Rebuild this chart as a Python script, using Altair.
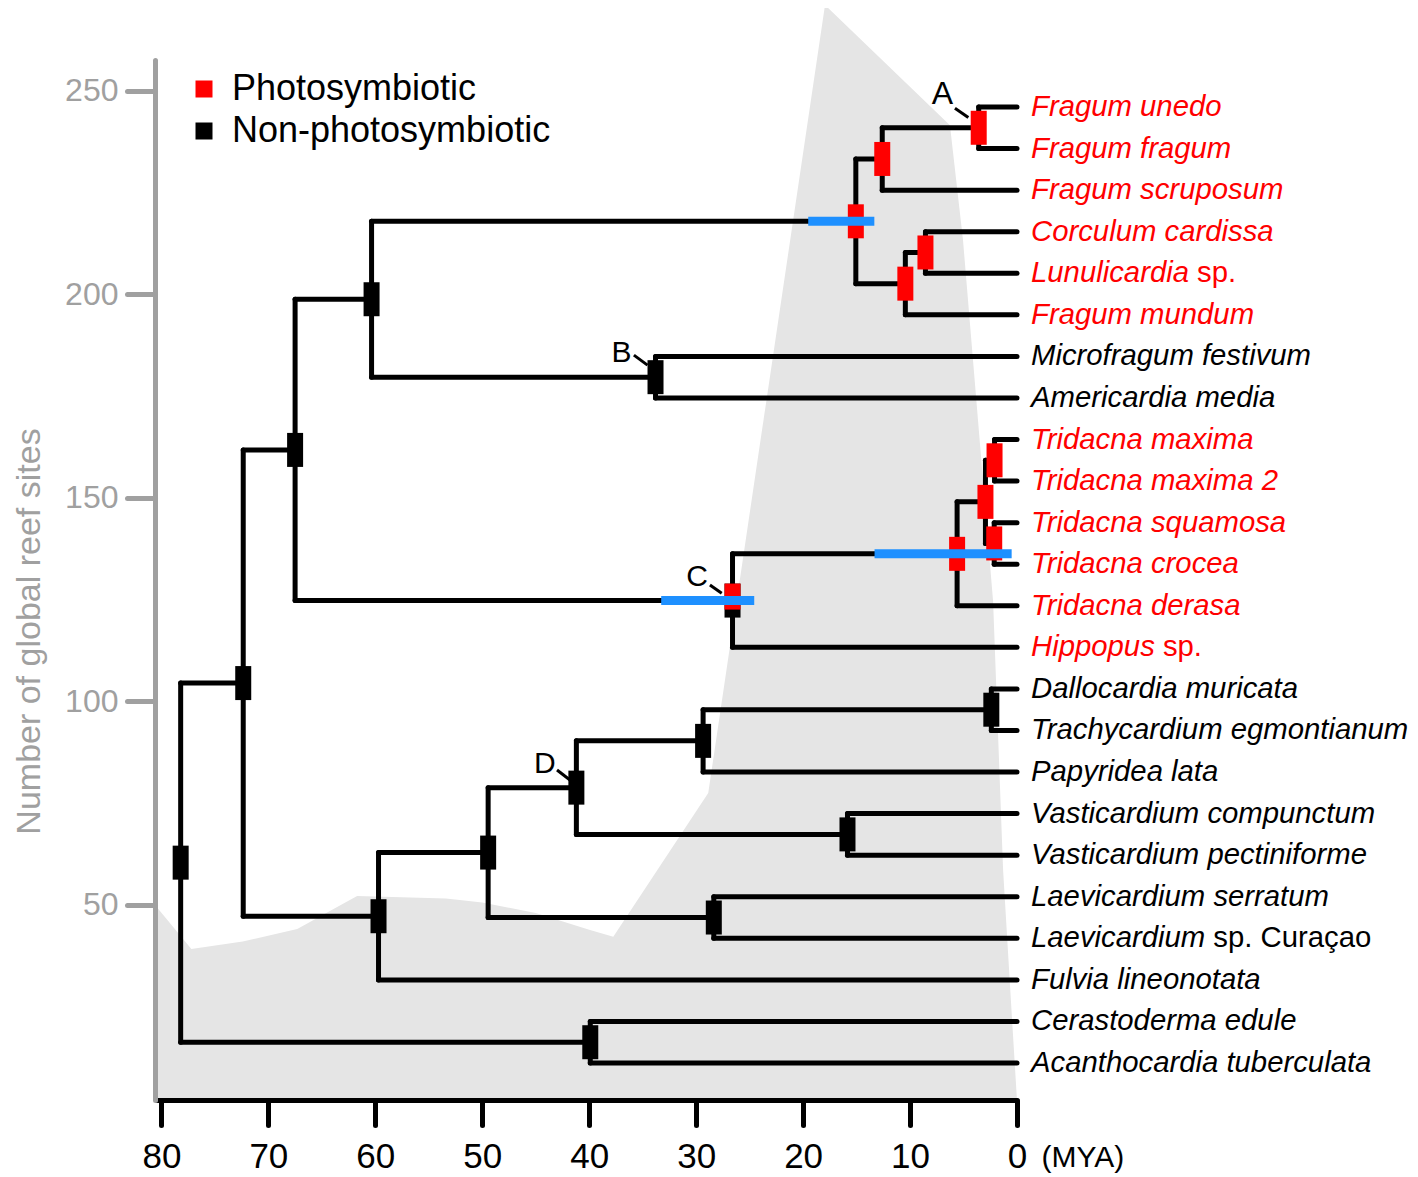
import altair as alt
import pandas as pd

FONT = "Liberation Sans"
GRAY = "#A0A0A0"
RED = "#FF0000"
BLUE = "#1E90FF"
AREA_GRAY = "#E5E5E5"

# ---------------- data ----------------
# number of global reef sites through time (grey area)
REEF_MYA = [80.6, 77.2, 72.4, 67.3, 61.7, 53.4, 50.0, 45.0, 40.0, 37.75,
            28.87, 17.95, 6.27, 5.05, 2.24, 1.3, 0.47, 0.0]
REEF_SITES = [50.0, 39.2, 41.0, 44.1, 52.2, 51.6, 50.6, 48.0, 43.9, 42.2,
              77.5, 271.0, 241.5, 213.3, 124.7, 58.6, 22.2, 2.0]

# tips (top to bottom)
TIP_ITALIC = ["Fragum unedo", "Fragum fragum", "Fragum scruposum", "Corculum cardissa",
              "Lunulicardia", "Fragum mundum", "Microfragum festivum", "Americardia media",
              "Tridacna maxima", "Tridacna maxima 2", "Tridacna squamosa", "Tridacna crocea",
              "Tridacna derasa", "Hippopus", "Dallocardia muricata", "Trachycardium egmontianum",
              "Papyridea lata", "Vasticardium compunctum", "Vasticardium pectiniforme",
              "Laevicardium serratum", "Laevicardium", "Fulvia lineonotata",
              "Cerastoderma edule", "Acanthocardia tuberculata"]
TIP_UPRIGHT = ["", "", "", "", "sp.", "", "", "", "", "", "", "", "", "sp.",
               "", "", "", "", "", "", "sp. Curaçao", "", "", ""]
TIP_PHOTO = [1, 1, 1, 1, 1, 1, 0, 0, 1, 1, 1, 1, 1, 1,
             0, 0, 0, 0, 0, 0, 0, 0, 0, 0]
TIP_NAMES = [a + (" " + b if b else "") for a, b in zip(TIP_ITALIC, TIP_UPRIGHT)]

# internal nodes: age (MYA), children, posterior of photosymbiotic state
NODE_NAMES = ["root", "n72", "n67", "n60", "F", "AS", "A", "CLM", "CL", "B",
              "C", "TRI", "TRI4", "TMAX", "TSC", "n59", "n49", "D", "n29",
              "DAL", "VAS", "LAE", "CER"]
NODE_AGES = [78.2, 72.35, 67.5, 60.35, 15.07, 12.6, 3.58, 10.44, 8.56, 33.8,
             26.6, 5.6, 2.95, 2.1, 2.13, 59.7, 49.45, 41.2, 29.35,
             2.4, 15.85, 28.35, 39.9]
NODE_CHILDREN = [["n72", "CER"], ["n67", "n59"], ["n60", "C"], ["F", "B"],
                 ["AS", "CLM"], ["A", "Fragum scruposum"], ["Fragum unedo", "Fragum fragum"],
                 ["CL", "Fragum mundum"], ["Corculum cardissa", "Lunulicardia sp."],
                 ["Microfragum festivum", "Americardia media"],
                 ["TRI", "Hippopus sp."], ["TRI4", "Tridacna derasa"], ["TMAX", "TSC"],
                 ["Tridacna maxima", "Tridacna maxima 2"], ["Tridacna squamosa", "Tridacna crocea"],
                 ["n49", "Fulvia lineonotata"], ["D", "LAE"], ["n29", "VAS"],
                 ["DAL", "Papyridea lata"],
                 ["Dallocardia muricata", "Trachycardium egmontianum"],
                 ["Vasticardium compunctum", "Vasticardium pectiniforme"],
                 ["Laevicardium serratum", "Laevicardium sp. Curaçao"],
                 ["Cerastoderma edule", "Acanthocardia tuberculata"]]
NODE_PHOTO = [0, 0, 0, 0, 1, 1, 1, 1, 1, 0,
              0.76, 1, 1, 1, 1, 0, 0, 0, 0, 0, 0, 0, 0]

# 95% HPD intervals (blue bars)
HPD_NODE = ["F", "C", "TRI"]
HPD_LO = [13.34, 24.57, 0.5]
HPD_HI = [19.52, 33.27, 13.32]

# node letters and their pointers
LETTERS = ["A", "B", "C", "D"]
LETTER_MYA = [6.97, 36.98, 29.92, 44.14]
LETTER_POS = [0.68, 6.92, 12.30, 16.81]
PTR_MYA1 = [5.80, 35.82, 28.71, 43.01]
PTR_MYA2 = [4.55, 34.55, 27.61, 41.80]
PTR_POS1 = [1.03, 6.97, 12.50, 16.95]
PTR_POS2 = [1.25, 7.21, 12.70, 17.19]

STATES = ["Photosymbiotic", "Non-photosymbiotic"]

# ---------------- tree layout ----------------
tip_pos = {n: i + 1 for i, n in enumerate(TIP_NAMES)}
node_age = dict(zip(NODE_NAMES, NODE_AGES))
node_kids = dict(zip(NODE_NAMES, NODE_CHILDREN))


def ypos(n):
    if n in tip_pos:
        return tip_pos[n]
    ys = [ypos(c) for c in node_kids[n]]
    return (min(ys) + max(ys)) / 2


def age(n):
    return node_age.get(n, 0.0)


hrows, vrows, nrows = [], [], []
for n, p in zip(NODE_NAMES, NODE_PHOTO):
    ys = [ypos(c) for c in node_kids[n]]
    vrows.append({"mya": age(n), "p1": min(ys), "p2": max(ys)})
    for c in node_kids[n]:
        hrows.append({"mya": age(n), "mya2": age(c), "pos": ypos(c)})
    nrows.append({"node": n, "mya": age(n), "pos": ypos(n), "p": p,
                  "state": STATES[0] if p == 1 else STATES[1]})
h_df = pd.DataFrame(hrows)
v_df = pd.DataFrame(vrows)
n_df = pd.DataFrame(nrows)
partial_df = n_df[(n_df.p > 0) & (n_df.p < 1)].copy()
partial_df["state"] = STATES[0]

tips_df = pd.DataFrame({"name": TIP_NAMES, "italic": TIP_ITALIC, "upright": TIP_UPRIGHT,
                        "mya": [0.0] * len(TIP_NAMES), "pos": [tip_pos[n] for n in TIP_NAMES],
                        "state": [STATES[0] if p else STATES[1] for p in TIP_PHOTO]})
hpd_df = pd.DataFrame({"lo": HPD_LO, "hi": HPD_HI, "pos": [ypos(n) for n in HPD_NODE]})
reef_df = pd.DataFrame({"mya": REEF_MYA, "sites": REEF_SITES})
let_df = pd.DataFrame({"txt": LETTERS, "mya": LETTER_MYA, "pos": LETTER_POS})
ptr_df = pd.DataFrame({"m1": PTR_MYA1, "m2": PTR_MYA2, "p1": PTR_POS1, "p2": PTR_POS2})

# ---------------- scales / axes ----------------
XS = alt.Scale(domain=[0, 80.6], reverse=True, nice=False, zero=False)
YT = alt.Scale(domain=[-0.1307, 24.890], reverse=True, nice=False, zero=False)
YR_MIN, YR_MAX = 2.1, 257.5
COLOR_SCALE = alt.Scale(domain=STATES, range=[RED, "#000000"])
TIP_FS = 29.3

x_axis = alt.Axis(values=list(range(0, 81, 10)), domainColor="black", domainWidth=5,
                  tickColor="black", tickWidth=5, tickSize=25, tickCap="round",
                  labelFontSize=35, labelColor="black", labelPadding=14, labelFlush=False,
                  labelOverlap=False, grid=False, title="(MYA)", titleX=886, titleY=57,
                  titleAlign="left", titleBaseline="middle", titleFontSize=30,
                  titleFontWeight="normal", titleColor="black", zindex=1)
y_axis = alt.Axis(values=[50, 100, 150, 200, 250], domainColor=GRAY, domainWidth=5,
                  domainCap="round", tickColor=GRAY, tickWidth=5, tickSize=28,
                  tickCap="round", labelFontSize=32, labelColor=GRAY, labelPadding=9,
                  grid=False, title="Number of global reef sites", titleFontSize=34,
                  titleColor=GRAY, titleFontWeight="normal", titleAngle=-90,
                  titleX=-116, titleY=571, titleAlign="center",
                  titleBaseline="alphabetic", zindex=1)


def X(field):
    return alt.X(field, type="quantitative", scale=XS, axis=x_axis)


def YTREE(field):
    return alt.Y(field, type="quantitative", scale=YT, axis=None)


area = alt.Chart(reef_df).mark_area(color=AREA_GRAY, clip=False).encode(
    x=X("mya"),
    y=alt.Y("sites:Q", scale=alt.Scale(domain=[YR_MIN, YR_MAX], nice=False, zero=False),
            axis=y_axis),
    y2=alt.datum(YR_MIN),
)

hbranch = alt.Chart(h_df).mark_rule(color="black", strokeWidth=5, strokeCap="round").encode(
    x=X("mya"), x2="mya2:Q", y=YTREE("pos"),
)
vbranch = alt.Chart(v_df).mark_rule(color="black", strokeWidth=5, strokeCap="round").encode(
    x=X("mya"), y=YTREE("p1"), y2="p2:Q",
)

node_bars = alt.Chart(n_df).mark_tick(orient="vertical", size=34, thickness=16,
                                      opacity=1).encode(
    x=X("mya"), y=YTREE("pos"),
    color=alt.Color("state:N", scale=COLOR_SCALE,
                    legend=alt.Legend(title=None, orient="none", legendX=31, legendY=11,
                                      symbolType="square", symbolSize=289,
                                      symbolStrokeWidth=0, symbolOpacity=1,
                                      labelFontSize=36, labelColor="black",
                                      labelOffset=10, rowPadding=6, padding=0,
                                      labelLimit=600)),
)
partial_bars = alt.Chart(partial_df).mark_tick(orient="vertical", size=26, thickness=16,
                                               opacity=1, yOffset=-4).encode(
    x=X("mya"), y=YTREE("pos"),
    color=alt.Color("state:N", scale=COLOR_SCALE, legend=None),
)

hpd = alt.Chart(hpd_df).mark_rule(color=BLUE, strokeWidth=9, strokeCap="butt").encode(
    x=X("lo"), x2="hi:Q", y=YTREE("pos"),
)

tip_text = alt.Chart(tips_df).mark_text(align="left", baseline="middle", dx=14,
                                        fontSize=TIP_FS, fontStyle="italic").encode(
    x=X("mya"), y=YTREE("pos"), text="italic:N",
    color=alt.Color("state:N", scale=COLOR_SCALE, legend=None),
)

# Arial / Liberation Sans advance widths (per 1000 em) for the italic part preceding upright text
W = {"L": 556, "u": 556, "n": 556, "l": 222, "i": 222, "c": 500, "a": 556, "r": 333,
     "d": 556, "H": 722, "p": 556, "o": 556, "s": 500, "e": 556, "v": 500, "m": 833, " ": 278}
suffix_layers = []
for i, (it, up) in enumerate(zip(TIP_ITALIC, TIP_UPRIGHT)):
    if not up:
        continue
    w = sum(W.get(ch, 556) for ch in it + " ") / 1000 * TIP_FS
    suffix_layers.append(
        alt.Chart(tips_df.iloc[[i]]).mark_text(align="left", baseline="middle",
                                               dx=14 + w, fontSize=TIP_FS).encode(
            x=X("mya"), y=YTREE("pos"), text="upright:N",
            color=alt.Color("state:N", scale=COLOR_SCALE, legend=None),
        ))

letters_a = alt.Chart(let_df[let_df.txt == "A"]).mark_text(
    align="center", baseline="middle", fontSize=32, color="black").encode(
    x=X("mya"), y=YTREE("pos"), text="txt:N")
letters_o = alt.Chart(let_df[let_df.txt != "A"]).mark_text(
    align="center", baseline="middle", fontSize=30, color="black").encode(
    x=X("mya"), y=YTREE("pos"), text="txt:N")
pointers = alt.Chart(ptr_df).mark_rule(color="black", strokeWidth=3).encode(
    x=X("m1"), x2="m2:Q", y=YTREE("p1"), y2="p2:Q",
)

chart = alt.layer(area, hbranch, vbranch, node_bars, partial_bars, hpd, tip_text,
                  *suffix_layers, letters_a, letters_o, pointers).resolve_scale(
    y="independent"
).properties(
    width=862, height=1040,
    padding={"left": 147, "top": 52, "right": 393, "bottom": 75},
    autosize=alt.AutoSizeParams(type="none"),
).configure(font=FONT).configure_view(stroke=None)

chart.save("out.html", embed_options={"renderer": "svg", "actions": False})
